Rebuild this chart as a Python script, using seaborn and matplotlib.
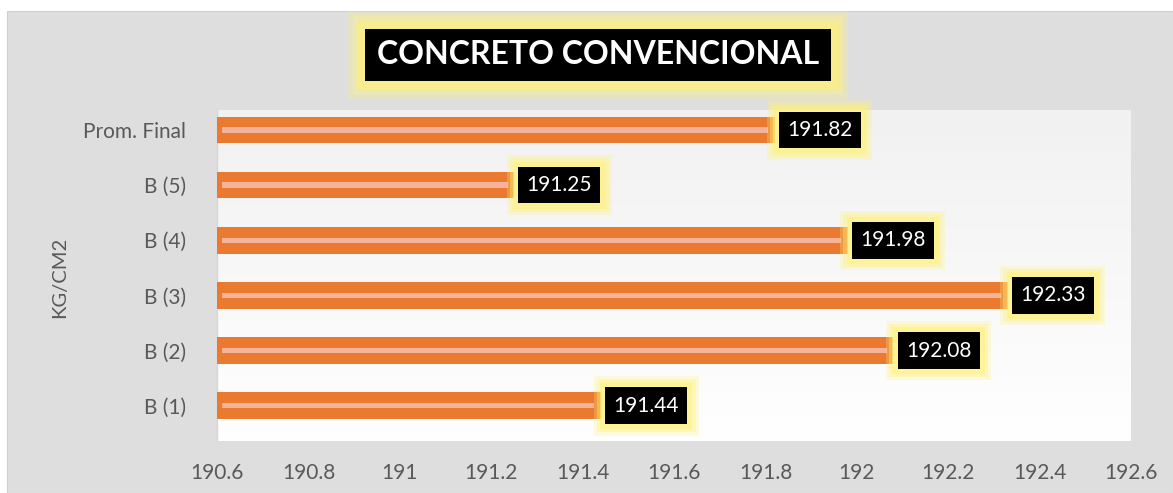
import numpy as np
import pandas as pd
import matplotlib
matplotlib.use("Agg")
import matplotlib.pyplot as plt
import seaborn as sns
from matplotlib.patches import Rectangle
from matplotlib.ticker import FuncFormatter, MultipleLocator

# ---- data ----
categories = ["Prom. Final", "B (5)", "B (4)", "B (3)", "B (2)", "B (1)"]
values = [191.82, 191.25, 191.98, 192.33, 192.08, 191.44]
title = "CONCRETO CONVENCIONAL"
ylabel = "KG/CM2"
x_min, x_max, x_step = 190.6, 192.6, 0.2

sns.set_theme(style="white")
plt.rcParams["font.family"] = ["Lato", "DejaVu Sans"]

ORANGE = "#E97A2F"
STRIPE = "#F4B39A"
GRAY_TXT = "#595959"
GLOW = "#FFF27A"

fig = plt.figure(figsize=(11.73, 4.93), dpi=100)
fig.patch.set_facecolor("white")
# outer chart area (flat light gray standing in for the stone texture)
fig.add_artist(Rectangle((7 / 1173, 0), 1 - 7 / 1173, 1 - 11 / 493,
                         transform=fig.transFigure, facecolor="#DEDEDE",
                         edgecolor="#D0D0D0", lw=0.8, zorder=0))

ax = fig.add_axes([217 / 1173, 1 - 441 / 493, (1131 - 217) / 1173, (441 - 110) / 493])
ax.set_facecolor("white")

df = pd.DataFrame({"cat": categories, "val": values})
sns.barplot(data=df, y="cat", x="val", order=categories, orient="h",
            color=ORANGE, saturation=1, width=0.483, ax=ax, zorder=3,
            edgecolor="none", linewidth=0)

# light inner stripe on each bar
ypos = np.arange(len(categories))
ax.barh(ypos, [v - x_min - 0.025 for v in values], left=x_min + 0.011,
        height=0.098, color=STRIPE, edgecolor="none", linewidth=0, zorder=4)

# plot-area gradient (white -> light gray)
grad = np.linspace(0, 1, 256).reshape(-1, 1)
ax.imshow(grad, cmap=matplotlib.colors.LinearSegmentedColormap.from_list("g", ["#FFFFFF", "#F1F1F1"]),
          extent=[0, 1, 1, 0], transform=ax.transAxes, aspect="auto", zorder=0)

ax.set_xlim(x_min, x_max)
ax.set_ylim(5.64, -0.363)
ax.xaxis.set_major_locator(MultipleLocator(x_step))
ax.xaxis.set_major_formatter(FuncFormatter(lambda x, p: f"{round(x, 1):g}"))

for s in ["top", "right", "bottom"]:
    ax.spines[s].set_visible(False)
ax.spines["left"].set_color("#D6D6D6")
ax.spines["left"].set_linewidth(1.0)

ax.tick_params(axis="both", length=0, labelsize=15, colors=GRAY_TXT)
ax.tick_params(axis="y", pad=22)
ax.tick_params(axis="x", pad=16)
ax.set_xlabel("")
ax.set_ylabel("")
fig.text(60 / 1173, 1 - 277 / 493, ylabel, rotation=90, ha="center", va="center",
         fontsize=14.5, color=GRAY_TXT)


def glow_text(x, y, s, transform, fontsize, weight, pad, offset=None, ha="left"):
    layers = [(pad + 0.55, 0.25), (pad + 0.40, 0.35), (pad + 0.25, 0.55)]
    for p, a in layers:
        kw = dict(fontsize=fontsize, fontweight=weight, color="none", ha=ha, va="center",
                  bbox=dict(boxstyle=f"square,pad={p}", facecolor=GLOW, edgecolor="none", alpha=a),
                  zorder=5)
        if offset is None:
            fig.text(x, y, s, transform=transform, **kw)
        else:
            ax.annotate(s, xy=(x, y), xytext=offset, textcoords="offset points", **kw)
    kw = dict(fontsize=fontsize, fontweight=weight, color="white", ha=ha, va="center",
              bbox=dict(boxstyle=f"square,pad={pad}", facecolor="black", edgecolor="none"),
              zorder=6)
    if offset is None:
        fig.text(x, y, s, transform=transform, **kw)
    else:
        ax.annotate(s, xy=(x, y), xytext=offset, textcoords="offset points", **kw)


# value labels
for i, v in enumerate(values):
    glow_text(v, i, f"{v:.2f}", None, 15, "normal", 0.4, offset=(9, 0))

# title
glow_text(598 / 1173, 1 - 55 / 493, title, fig.transFigure, 23, "bold", 0.36, ha="center")

fig.savefig("out.png", dpi=100)
